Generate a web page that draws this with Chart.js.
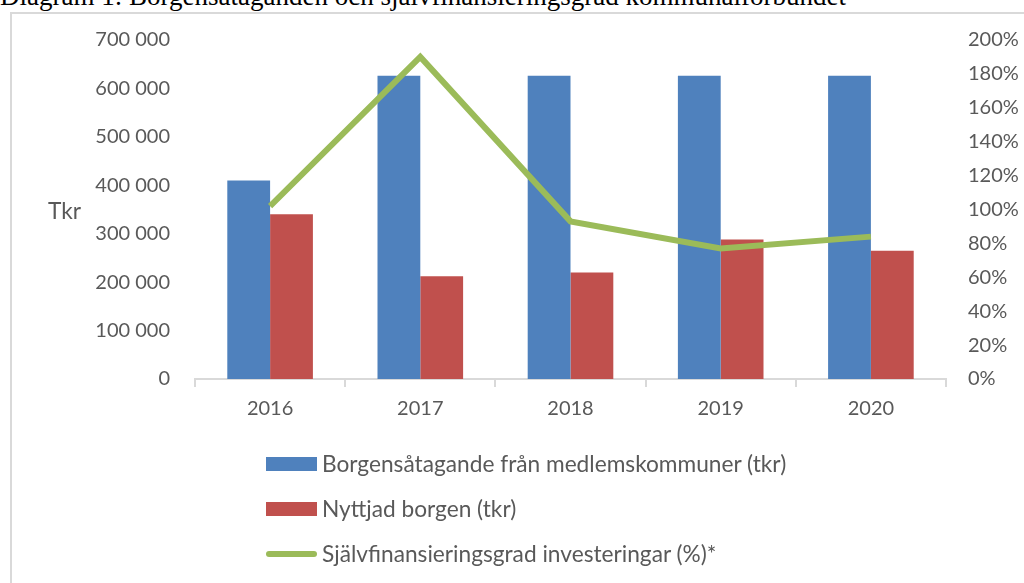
<!DOCTYPE html>
<html>
<head>
<meta charset="utf-8">
<script src="https://cdn.jsdelivr.net/npm/chart.js@4"></script>
<style>
    body { margin: 0; width: 1024px; height: 583px; overflow: hidden; background: #fff; position: relative; }
    #title { position: absolute; left: 0; top: -17px; font: 27px "Liberation Serif", "Times New Roman", serif; line-height: 27px; white-space: nowrap; color: #000; }
    #frame { position: absolute; left: 10px; top: 12px; width: 1100px; height: 700px; border: 2px solid #d9d9d9; }
    #wrap { position: absolute; left: 0; top: 0; width: 1024px; height: 583px; }
    #legend { position: absolute; left: 266px; top: 441px; font: 22.7px Lato, sans-serif; color: #595959; }
    .item { display: flex; align-items: center; height: 45px; }
    .swatch { width: 51px; margin-right: 5px; }
</style>
</head>
<body>
<div id="title">Diagram 1: Borgensåtaganden och självfinansieringsgrad kommunalförbundet</div>
<div id="frame"></div>
<div id="wrap"><canvas id="mainChart" width="1024" height="583"></canvas></div>
<div id="legend"></div>

<script>
const years = ['2016', '2017', '2018', '2019', '2020'];
const borgensatagande = [410000, 626000, 626000, 626000, 626000];
const nyttjadBorgen = [340000, 212000, 220000, 288000, 265000];
const sjalvfinansiering = [102, 190, 93, 77, 84];

const seriesNames = [
    'Borgensåtagande från medlemskommuner (tkr)',
    'Nyttjad borgen (tkr)',
    'Självfinansieringsgrad investeringar (%)*'
];
const colors = ['#4f81bd', '#c0504d', '#9bbb59'];

const textColor = '#595959';
const axisFont = { family: 'Lato', size: 20 };

function formatThousands(v) {
    return v.toString().replace(/\B(?=(\d{3})+(?!\d))/g, ' ');
}

// draws the "Tkr" unit label left of the y axis
const unitLabel = {
    id: 'unitLabel',
    afterDraw(chart) {
        const c = chart.ctx;
        c.save();
        c.font = '22.7px Lato';
        c.fillStyle = textColor;
        c.textBaseline = 'middle';
        c.fillText('Tkr', 48, 212);
        c.restore();
    }
};

function buildLegend() {
    const el = document.getElementById('legend');
    seriesNames.forEach((name, i) => {
        const row = document.createElement('div');
        row.className = 'item';
        const sw = document.createElement('span');
        sw.className = 'swatch';
        if (i === 2) {
            sw.style.height = '6px';
            sw.style.borderRadius = '3px';
        } else {
            sw.style.height = '14px';
        }
        sw.style.background = colors[i];
        row.appendChild(sw);
        row.appendChild(document.createTextNode(name));
        el.appendChild(row);
    });
}

function drawChart() {
    const ctx = document.getElementById('mainChart');
    new Chart(ctx, {
        type: 'bar',
        data: {
            labels: years,
            datasets: [
                {
                    type: 'line',
                    label: seriesNames[2],
                    data: sjalvfinansiering,
                    yAxisID: 'y1',
                    borderColor: colors[2],
                    borderWidth: 6,
                    pointRadius: 0,
                    tension: 0,
                    order: 0
                },
                {
                    label: seriesNames[0],
                    data: borgensatagande,
                    backgroundColor: colors[0],
                    categoryPercentage: 0.57,
                    barPercentage: 1.0,
                    order: 1
                },
                {
                    label: seriesNames[1],
                    data: nyttjadBorgen,
                    backgroundColor: colors[1],
                    categoryPercentage: 0.57,
                    barPercentage: 1.0,
                    order: 1
                }
            ]
        },
        options: {
            responsive: false,
            animation: false,
            layout: { padding: { top: 40, bottom: 0, left: 0, right: 0 } },
            plugins: {
                legend: { display: false },
                tooltip: { enabled: false }
            },
            scales: {
                x: {
                    grid: { display: true, drawOnChartArea: false, color: '#d9d9d9', lineWidth: 2, tickLength: 8, offset: true },
                    border: { color: '#d9d9d9', width: 2 },
                    ticks: { color: textColor, font: axisFont, padding: 10 },
                    afterFit(scale) { scale.height = 204; }
                },
                y: {
                    position: 'left',
                    min: 0,
                    max: 700000,
                    grid: { display: false, drawTicks: false },
                    border: { display: false },
                    ticks: {
                        stepSize: 100000,
                        color: textColor,
                        font: axisFont,
                        padding: 25,
                        callback: v => formatThousands(v)
                    },
                    afterFit(scale) { scale.width = 195; }
                },
                y1: {
                    position: 'right',
                    min: 0,
                    max: 200,
                    grid: { display: false, drawTicks: false },
                    border: { display: false },
                    ticks: {
                        stepSize: 20,
                        color: textColor,
                        font: axisFont,
                        padding: 22,
                        callback: v => v + '%'
                    },
                    afterFit(scale) { scale.width = 78; }
                }
            }
        },
        plugins: [unitLabel]
    });
}

buildLegend();
drawChart();
</script>
</body>
</html>
